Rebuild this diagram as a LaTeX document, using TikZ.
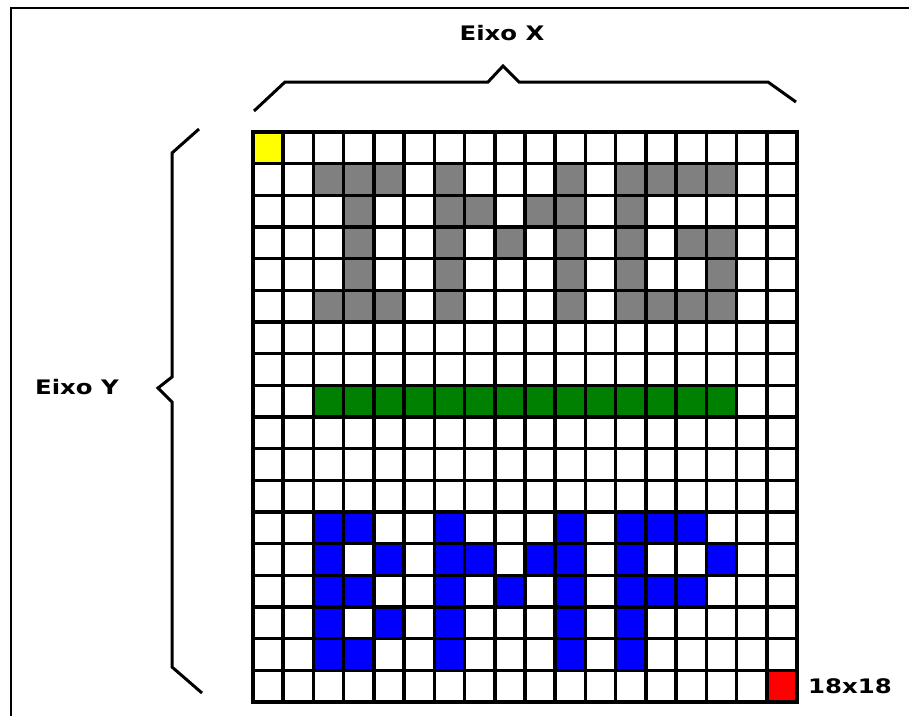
\documentclass[tikz,border=0pt]{standalone}
\usepackage{fontspec}
\setmainfont{DejaVu Sans Bold}[FakeStretch=1.22]
\usepackage{tikz}
\definecolor{pixgray}{RGB}{128,128,128}
\definecolor{pixgreen}{RGB}{0,128,0}
\definecolor{pixblue}{RGB}{0,0,255}
\definecolor{pixyellow}{RGB}{255,255,0}
\definecolor{pixred}{RGB}{255,0,0}
\tikzset{
  label/.style={font=\fontsize{20}{24}\selectfont, inner sep=0pt},
  brace/.style={line width=3pt, line join=miter},
  gridline/.style={line width=3.5pt, line cap=rect}
}

\begin{document}
\begin{tikzpicture}[x=1pt, y=-1pt]
    \useasboundingbox (0,0) rectangle (909,716);
    % Frame
    \draw[line width=2pt] (11,716) -- (11,8) -- (909,8);
    % Define brace points
    \coordinate (XA) at (254,111);
    \coordinate (XB) at (796,102);
    \coordinate (YA) at (199,129);
    \coordinate (YB) at (202,693);
    % Labels
    \node[label] (eixox) at (502,33) {Eixo X};
    \node[label] (eixoy) at (77,387) {Eixo Y};
    % Braces
    \draw[brace] (XA) -- (285,82) -- (488,82) -- (503,66) -- (519,82)
      -- (768,82) -- (XB);
    \draw[brace] (YA) -- (172,153) -- (172,377) -- (158,388) -- (172,402)
      -- (172,667) -- (YB);
    % Pixels
    \begin{scope}[shift={(253,132)}, x=30.22pt, y=-31.67pt]
      \fill[pixyellow] (0,0) rectangle (1,1);
      \fill[pixred] (17,17) rectangle (18,18);
      % IMG
      \foreach \c/\r in {2/1,3/1,4/1,3/2,3/3,3/4,2/5,3/5,4/5,
          6/1,6/2,6/3,6/4,6/5,7/2,8/3,9/2,10/1,10/2,10/3,10/4,10/5,
          12/1,12/2,12/3,12/4,12/5,13/1,14/1,15/1,13/5,14/5,15/5,
          14/3,15/3,15/4}
        \fill[pixgray] (\c,\r) rectangle (\c+1,\r+1);
      % bar
      \fill[pixgreen] (2,8) rectangle (16,9);
      % BMP
      \foreach \c/\r in {2/12,2/13,2/14,2/15,2/16,3/12,3/14,3/16,4/13,4/15,
          6/12,6/13,6/14,6/15,6/16,7/13,8/14,9/13,
          10/12,10/13,10/14,10/15,10/16,
          12/12,12/13,12/14,12/15,12/16,13/12,14/12,13/14,14/14,15/13}
        \fill[pixblue] (\c,\r) rectangle (\c+1,\r+1);
      % grid lines
      \foreach \i in {0,...,18} {
        \draw[gridline] (\i,0) -- (\i,18);
        \draw[gridline] (0,\i) -- (18,\i);
      }
      \coordinate (corner) at (18,17.5);
    \end{scope}
    \node[label, anchor=west] (size) at ([xshift=11pt]corner) {18x18};
\end{tikzpicture}
\end{document}
